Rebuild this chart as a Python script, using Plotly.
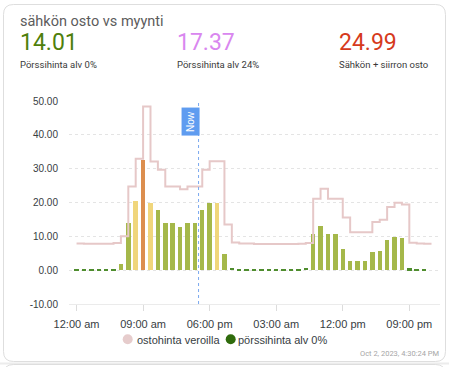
import plotly.graph_objects as go
import pandas as pd

# ---------------- data ----------------
start = pd.Timestamp("2023-10-02 00:00")
hours = list(range(48))
times = [start + pd.Timedelta(hours=h) for h in hours]
line_times = times + [start + pd.Timedelta(hours=48)]

# pörssihinta alv 0% (c/kWh), hourly bars
spot_prices = [
    0.45, 0.4, 0.4, 0.4, 0.4, 0.45, 1.9, 13.8, 20.4, 32.6, 20.0, 17.8,
    13.8, 13.8, 12.9, 13.8, 13.8, 17.8, 19.8, 20.0, 4.7, 0.6, 0.45, 0.45,
    0.4, 0.4, 0.4, 0.4, 0.4, 0.4, 0.45, 0.6, 10.8, 13.2, 10.8, 10.8,
    6.3, 2.8, 2.8, 2.8, 5.3, 5.8, 8.8, 9.9, 9.5, 0.5, 0.45, 0.4,
]

# ostohinta veroilla (c/kWh), step line
buy_prices = [
    7.9, 7.8, 7.8, 7.8, 7.8, 8.0, 10.0, 24.7, 32.9, 48.4, 32.1, 29.7,
    24.7, 24.7, 23.9, 24.7, 24.7, 29.7, 32.2, 32.2, 13.5, 8.2, 7.9, 7.9,
    7.7, 7.7, 7.7, 7.7, 7.7, 7.7, 7.8, 8.0, 21.1, 24.1, 21.1, 21.1,
    15.6, 11.2, 11.2, 11.2, 14.2, 14.9, 18.7, 19.9, 19.4, 8.1, 7.9, 7.8,
    7.8,
]

header_values = ["14.01", "17.37", "24.99"]
header_labels = ["Pörssihinta alv 0%", "Pörssihinta alv 24%", "Sähkön + siirron osto"]
title_text = "sähkön osto vs myynti"
series_names = ["ostohinta veroilla", "pörssihinta alv 0%"]
tick_hours = [0, 9, 18, 27, 36, 45]
tick_labels = ["12:00 am", "09:00 am", "06:00 pm", "03:00 am", "12:00 pm", "09:00 pm"]
now_time = start + pd.Timedelta(hours=16.5)
timestamp_text = "Oct 2, 2023, 4:30:24 PM"

# ---------------- styling ----------------
W, H = 449, 367
ML, MR, MT, MB = 69, 9, 101, 63
PX0, PX1 = ML, W - MR
PY0, PY1 = MT, H - MB


def fx(x):
    return (x - PX0) / (PX1 - PX0)


def fy(y):
    return (PY1 - y) / (PY1 - PY0)


def bar_color(v):
    if v < 1:
        return "#4f8d2e"
    if v < 20:
        return "#a5b84a"
    if v < 30:
        return "#f0d67c"
    return "#dc8e4e"


header_colors = ["#4f7f0c", "#d987ef", "#d63a1c"]
axis_font = dict(family="Liberation Sans, Arial, sans-serif", size=10, color="#373d3f")

fig = go.Figure()

fig.add_trace(go.Scatter(
    x=line_times, y=buy_prices, name=series_names[0],
    mode="lines", line=dict(shape="hv", color="#e6c8c8", width=2),
    showlegend=False,
))

fig.add_trace(go.Bar(
    x=times, y=spot_prices, name=series_names[1],
    marker=dict(color=[bar_color(v) for v in spot_prices], line=dict(width=0)),
    width=0.6 * 3600 * 1000,
    showlegend=False,
))

x_range = [start + pd.Timedelta(hours=-1.02), start + pd.Timedelta(hours=49.15)]

fig.update_xaxes(
    type="date", range=x_range,
    tickvals=[start + pd.Timedelta(hours=h) for h in tick_hours],
    ticktext=tick_labels,
    showgrid=False, zeroline=False,
    showline=True, linecolor="#ebebeb", linewidth=1,
    ticks="outside", ticklen=6, tickcolor="#dcdcdc", tickwidth=1,
    tickfont=dict(family="Liberation Sans, Arial, sans-serif", size=11, color="#373d3f"),
    ticklabelstandoff=4,
)
fig.update_yaxes(
    range=[-10, 50], tickvals=[-10, 0, 10, 20, 30, 40, 50],
    ticktext=["-10.00", "0.00", "10.00", "20.00", "30.00", "40.00", "50.00"],
    showgrid=True, gridcolor="#e4e4e4", gridwidth=1, griddash="3px,3px",
    zeroline=False, showline=False, ticks="",
    tickfont=axis_font, ticklabelstandoff=10,
)

shapes = []


def rounded(x0, y0, x1, y1, r):
    pts = [
        ("M", [(x0 + r, y0)]), ("L", [(x1 - r, y0)]), ("Q", [(x1, y0), (x1, y0 + r)]),
        ("L", [(x1, y1 - r)]), ("Q", [(x1, y1), (x1 - r, y1)]), ("L", [(x0 + r, y1)]),
        ("Q", [(x0, y1), (x0, y1 - r)]), ("L", [(x0, y0 + r)]), ("Q", [(x0, y0), (x0 + r, y0)]),
    ]
    s = ""
    for cmd, ps in pts:
        s += cmd + " " + " ".join(f"{fx(a):.5f},{fy(b):.5f}" for a, b in ps) + " "
    return s + "Z"


# card outline
shapes.append(dict(type="path", xref="paper", yref="paper", path=rounded(3.5, 4.5, 445.5, 361.5, 10),
                   line=dict(color="#dedede", width=1), fillcolor="rgba(0,0,0,0)", layer="below"))
# gap strip and next card
shapes.append(dict(type="rect", xref="paper", yref="paper", x0=fx(0), x1=fx(449), y0=fy(362.5), y1=fy(364.5),
                   line=dict(width=0), fillcolor="#ececec", layer="below"))
shapes.append(dict(type="path", xref="paper", yref="paper", path=rounded(3.5, 364.5, 445.5, 400, 10),
                   line=dict(color="#dedede", width=1), fillcolor="rgba(0,0,0,0)", layer="below"))
# now line
shapes.append(dict(type="line", xref="x", yref="paper", x0=now_time, x1=now_time, y0=0, y1=1.0,
                   line=dict(color="#7aa8ef", width=1, dash="dot")))
# legend markers
legend_pos = [(127.7, 339.3, "#e6cccc", 136, series_names[0]), (230.7, 339.3, "#2f6b0c", 237, series_names[1])]
for cx, cy, col, tx, name in legend_pos:
    shapes.append(dict(type="circle", xref="paper", yref="paper",
                       x0=fx(cx - 5), x1=fx(cx + 5), y0=fy(cy + 5), y1=fy(cy - 5),
                       line=dict(width=0), fillcolor=col))

annotations = []
annotations.append(dict(text=title_text, xref="paper", yref="paper", x=fx(18), y=fy(21),
                        xanchor="left", yanchor="middle", showarrow=False,
                        font=dict(family="Roboto", size=14.5, color="#5c5c5c")))
header_x = [18, 175, 337]
for hx, val, lab, col in zip(header_x, header_values, header_labels, header_colors):
    annotations.append(dict(text=val, xref="paper", yref="paper", x=fx(hx), y=fy(42),
                            xanchor="left", yanchor="middle", showarrow=False,
                            font=dict(family="Roboto", size=23, color=col)))
    annotations.append(dict(text=lab, xref="paper", yref="paper", x=fx(hx), y=fy(64.5),
                            xanchor="left", yanchor="middle", showarrow=False,
                            font=dict(family="Roboto", size=9.5, color="#3a3a3a")))
for cx, cy, col, tx, name in legend_pos:
    annotations.append(dict(text=name, xref="paper", yref="paper", x=fx(tx - 1), y=fy(339.5),
                            xanchor="left", yanchor="middle", showarrow=False,
                            font=dict(family="Liberation Sans, Arial, sans-serif", size=11, color="#373d3f")))
annotations.append(dict(text=timestamp_text, xref="paper", yref="paper", x=fx(441), y=fy(353),
                        xanchor="right", yanchor="middle", showarrow=False,
                        font=dict(family="Roboto", size=7.5, color="#a6a6a6")))
annotations.append(dict(text="Now", xref="x", yref="paper", x=now_time, y=fy(122),
                        xanchor="right", yanchor="middle", showarrow=False, textangle=-90,
                        font=dict(family="Liberation Sans, Arial, sans-serif", size=10, color="#ffffff"),
                        bgcolor="#5f9cf0", borderpad=3, xshift=1))

fig.update_layout(
    width=W, height=H,
    margin=dict(l=ML, r=MR, t=MT, b=MB, pad=0),
    paper_bgcolor="#ffffff", plot_bgcolor="rgba(0,0,0,0)",
    showlegend=False, bargap=0,
    shapes=shapes, annotations=annotations,
)

fig.write_html("out.html", config={"displayModeBar": False},
               post_script="document.body.style.margin='0px';document.body.style.overflow='hidden';")
